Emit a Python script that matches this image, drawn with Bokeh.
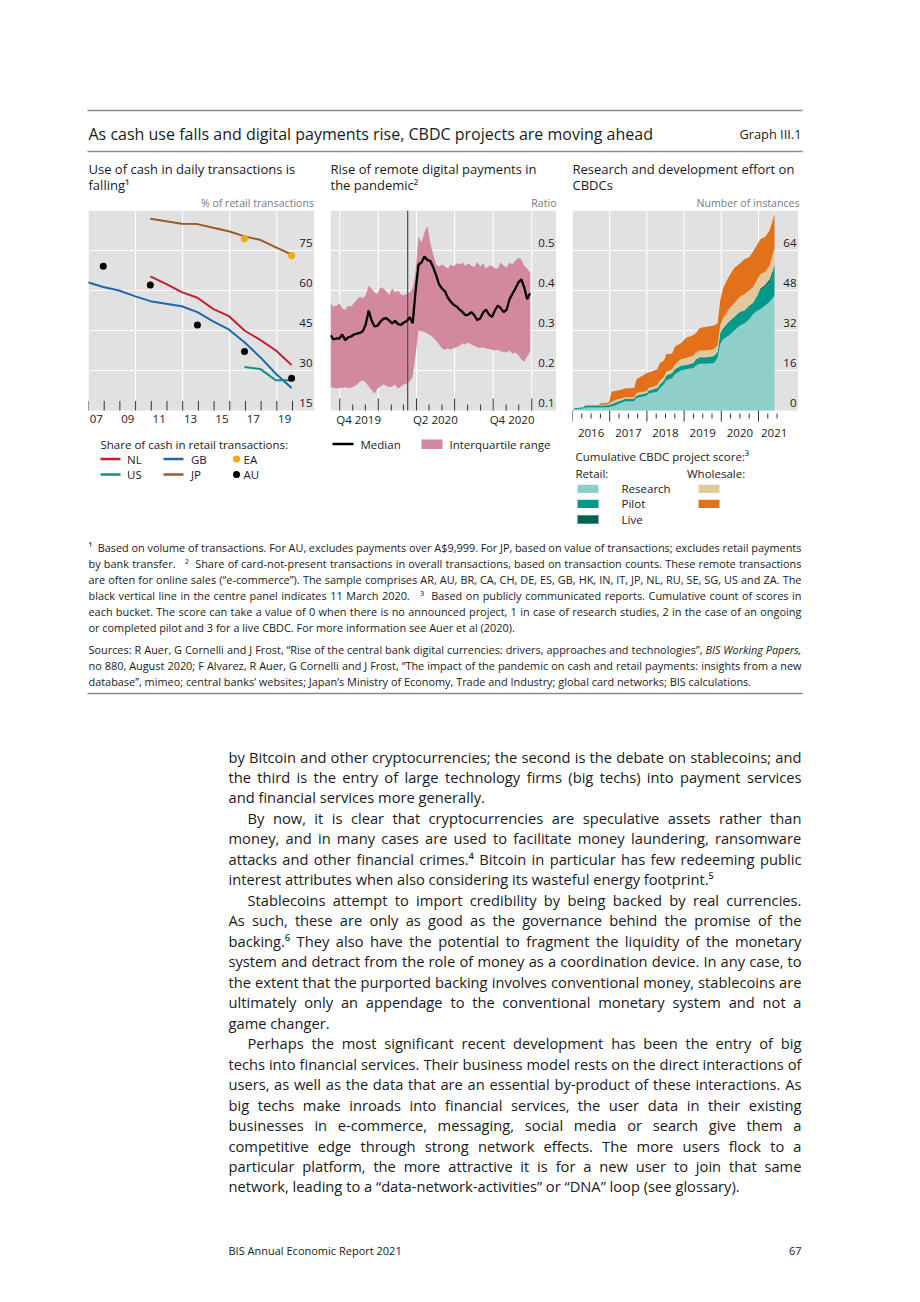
import os
import struct
import pandas as pd
from bokeh.plotting import figure
from bokeh.layouts import column, row
from bokeh.models import Range1d, Spacer
from bokeh.core.properties import value
from bokeh.embed import file_html
from bokeh.resources import INLINE

FONT = "Open Sans"
INK = "#1a1a1a"
BG = "#e1e1e1"
RULE = "#8a8a8a"
GREYTXT = "#7a7a7a"

# ---------------- Panel 1: use of cash (% of retail transactions) ----------------
cash_gb_years = list(range(2006, 2020))
cash_gb = [63.1, 61.3, 60.0, 57.9, 56.0, 55.0, 54.1, 51.9, 48.4, 45.4, 40.6, 35.0, 28.8, 23.4]
cash_nl_years = list(range(2010, 2020))
cash_nl = [65.3, 62.5, 59.4, 57.3, 53.1, 50.4, 45.0, 41.5, 37.5, 32.1]
cash_jp_years = list(range(2010, 2020))
cash_jp = [86.9, 86.0, 85.0, 84.9, 83.5, 82.2, 80.3, 79.0, 76.2, 73.5]
cash_us_years = [2016, 2017, 2018, 2019]
cash_us = [31.3, 30.6, 26.3, 26.3]
cash_ea_years = [2016, 2019]
cash_ea = [79.4, 73.1]
cash_au_years = [2007, 2010, 2013, 2016, 2019]
cash_au = [69.1, 62.1, 47.1, 37.1, 27.1]
cash_yticks = [15, 30, 45, 60, 75]
cash_xlabel_years = [2007, 2009, 2011, 2013, 2015, 2017, 2019]
cash_xlabels = ["07", "09", "11", "13", "15", "17", "19"]
cash_tick_years = list(range(2007, 2021))
cash_vgrid_years = [2010, 2013, 2016, 2019]

# ---------------- Panel 2: remote digital payments (ratio), weekly ----------------
remote_weeks = pd.date_range("2019-09-09", periods=69, freq="7D")
remote_median = [0.288, 0.278, 0.280, 0.280, 0.290, 0.276, 0.283, 0.285, 0.290, 0.292,
                 0.294, 0.298, 0.315, 0.350, 0.325, 0.310, 0.312, 0.322, 0.329, 0.331,
                 0.325, 0.318, 0.324, 0.316, 0.314, 0.320, 0.324, 0.333, 0.318, 0.400,
                 0.465, 0.470, 0.485, 0.476, 0.474, 0.458, 0.438, 0.415, 0.405, 0.398,
                 0.382, 0.372, 0.364, 0.360, 0.352, 0.346, 0.338, 0.340, 0.346, 0.338,
                 0.326, 0.330, 0.345, 0.352, 0.340, 0.334, 0.350, 0.362, 0.356, 0.346,
                 0.352, 0.378, 0.392, 0.405, 0.420, 0.428, 0.408, 0.378, 0.393]
remote_q3 = [0.368, 0.360, 0.362, 0.368, 0.355, 0.352, 0.362, 0.360, 0.368, 0.378,
             0.385, 0.380, 0.388, 0.412, 0.405, 0.395, 0.392, 0.408, 0.405, 0.398,
             0.388, 0.405, 0.395, 0.400, 0.390, 0.388, 0.392, 0.395, 0.405, 0.450,
             0.535, 0.520, 0.545, 0.562, 0.520, 0.490, 0.465, 0.460, 0.465, 0.460,
             0.455, 0.465, 0.460, 0.468, 0.465, 0.470, 0.462, 0.468, 0.462, 0.458,
             0.472, 0.460, 0.468, 0.455, 0.462, 0.462, 0.455, 0.455, 0.470, 0.462,
             0.458, 0.470, 0.465, 0.475, 0.482, 0.478, 0.462, 0.455, 0.445]
remote_q1 = [0.158, 0.157, 0.155, 0.156, 0.157, 0.158, 0.156, 0.157, 0.160, 0.165,
             0.172, 0.175, 0.170, 0.160, 0.152, 0.142, 0.155, 0.160, 0.165, 0.162,
             0.158, 0.160, 0.165, 0.155, 0.160, 0.165, 0.168, 0.172, 0.185, 0.240,
             0.300, 0.298, 0.296, 0.292, 0.288, 0.282, 0.275, 0.265, 0.255, 0.252,
             0.255, 0.252, 0.256, 0.258, 0.262, 0.268, 0.265, 0.270, 0.265, 0.262,
             0.258, 0.256, 0.258, 0.255, 0.254, 0.252, 0.250, 0.252, 0.248, 0.246,
             0.245, 0.250, 0.242, 0.245, 0.238, 0.228, 0.222, 0.235, 0.248]
remote_event = pd.Timestamp("2020-03-11")
remote_yticks = [0.1, 0.2, 0.3, 0.4, 0.5]
remote_months = pd.date_range("2019-10-01", "2021-01-01", freq="MS")
remote_qlabels = ["Q4 2019", "Q2 2020", "Q4 2020"]
remote_qlabel_dates = pd.to_datetime(["2019-11-15", "2020-05-16", "2020-11-15"])

# ---------------- Panel 3: CBDC project scores (cumulative) ----------------
cbdc_t = [2016.00, 2016.05, 2016.30, 2016.35, 2016.68, 2016.75, 2016.98, 2017.05, 2017.15, 2017.30,
          2017.40, 2017.66, 2017.72, 2018.00, 2018.05, 2018.28, 2018.35, 2018.46, 2018.52, 2018.68,
          2018.75, 2018.92, 2019.05, 2019.25, 2019.32, 2019.42, 2019.60, 2019.80, 2019.90, 2019.97,
          2020.05, 2020.20, 2020.35, 2020.50, 2020.62, 2020.75, 2020.85, 2020.97, 2021.05, 2021.18,
          2021.30, 2021.43]
retail_research = [0, 0.5, 0.8, 1.2, 1.2, 1.2, 1.3, 1.6, 2.0, 3.0,
                   3.6, 3.7, 5.0, 6.0, 6.8, 7.5, 9.0, 10.5, 12.0, 13.0,
                   14.5, 16.0, 16.5, 17.0, 18.0, 18.7, 18.7, 19.0, 21.0, 26.5,
                   28.5, 30.0, 32.0, 34.0, 34.8, 36.5, 38.5, 40.0, 40.5, 42.0,
                   43.5, 46.0]
retail_pilot = [0, 0.4, 0.5, 0.8, 0.8, 0.8, 0.9, 1.0, 1.2, 1.0,
                1.0, 1.1, 1.0, 1.0, 1.2, 1.5, 1.5, 1.5, 2.0, 2.0,
                2.0, 2.0, 1.7, 2.0, 2.5, 2.6, 2.6, 2.8, 2.5, 4.5,
                4.5, 5.5, 5.5, 5.5, 5.2, 5.5, 4.5, 5.5, 7.5, 7.5,
                8.0, 11.0]
retail_live = [0, 0, 0, 0, 0, 0, 0, 0, 0, 0,
               0, 0, 0, 0, 0, 0, 0, 0, 0, 0,
               0, 0, 0, 0, 0, 0, 0, 0, 0, 0,
               0, 0, 0, 0, 0, 0, 0, 0.6, 0.8, 0.8,
               1.0, 1.0]
wholesale_research = [0, 0, 0, 0, 0, 0.2, 0.4, 0.8, 1.0, 0.8,
                      0.6, 0.6, 1.0, 0.8, 1.0, 1.2, 1.5, 1.5, 1.5, 1.5,
                      2.0, 2.5, 2.8, 3.0, 2.8, 2.7, 2.7, 2.7, 2.5, 3.0,
                      4.0, 5.0, 5.5, 6.0, 6.5, 6.0, 6.3, 6.4, 5.7, 5.2,
                      5.5, 7.0]
wholesale_pilot = [0, 0, 0, 0, 0, 0.6, 0.6, 4.1, 3.6, 3.5,
                   3.6, 3.6, 5.5, 7.2, 6.2, 6.3, 7.0, 6.5, 7.0, 6.3,
                   7.0, 6.5, 8.0, 8.2, 7.7, 9.0, 9.5, 9.5, 8.8, 10.0,
                   12.0, 13.0, 14.0, 13.3, 14.0, 13.3, 14.2, 14.0, 14.0, 14.0,
                   14.0, 13.5]
cbdc_yticks = [0, 16, 32, 48, 64]
cbdc_label_years = [2016.5, 2017.5, 2018.5, 2019.5, 2020.5, 2021.42]
cbdc_labels = ["2016", "2017", "2018", "2019", "2020", "2021"]
cbdc_quarters = [2016 + 0.25 * k for k in range(23)]
cbdc_vgrid = [2017, 2018, 2019, 2020, 2021]

C_NL, C_GB, C_US, C_JP, C_EA, C_AU = "#c4202f", "#1f67b1", "#12918a", "#9c5a2c", "#f5ab00", "#000000"
C_IQR = "#d3899d"
C_RR, C_RP, C_RL, C_WR, C_WP = "#8ecfc9", "#009a8b", "#00634f", "#e0c99c", "#e3711a"


# ---------------- font metrics (for justified text) ----------------
def _load_width_fn():
    try:
        cands = []
        for root in ["/usr/share/fonts", "/usr/local/share/fonts", os.path.expanduser("~/.fonts"),
                     os.path.expanduser("~/.local/share/fonts")]:
            if not os.path.isdir(root):
                continue
            for dp, dn, fn in os.walk(root):
                for f in fn:
                    fl = f.lower()
                    if fl.startswith("opensans") and fl.endswith(".ttf") and "italic" not in fl:
                        cands.append(os.path.join(dp, f))
        if not cands:
            return None

        def rank(pth):
            b = os.path.basename(pth).lower()
            if "opensans-regular" in b:
                return 0
            if "[" in b or "variable" in b:
                return 1
            if "condensed" in b or "semi" in b or "bold" in b or "light" in b or "medium" in b or "extra" in b:
                return 5
            return 2
        cands.sort(key=rank)
        data = open(cands[0], "rb").read()
        ntab = struct.unpack(">H", data[4:6])[0]
        tabs = {}
        for i in range(ntab):
            tag, cs, off, ln = struct.unpack(">4sIII", data[12 + 16 * i: 28 + 16 * i])
            tabs[tag.decode("latin1")] = off
        upem = struct.unpack(">H", data[tabs["head"] + 18: tabs["head"] + 20])[0]
        nhm = struct.unpack(">H", data[tabs["hhea"] + 34: tabs["hhea"] + 36])[0]
        ho = tabs["hmtx"]
        adv = [struct.unpack(">H", data[ho + 4 * i: ho + 4 * i + 2])[0] for i in range(nhm)]
        co = tabs["cmap"]
        nsub = struct.unpack(">H", data[co + 2: co + 4])[0]
        cmap = {}
        for i in range(nsub):
            pid, eid, soff = struct.unpack(">HHI", data[co + 4 + 8 * i: co + 12 + 8 * i])
            st = co + soff
            fmt = struct.unpack(">H", data[st: st + 2])[0]
            if fmt == 4 and pid in (0, 3):
                segx2 = struct.unpack(">H", data[st + 6: st + 8])[0]
                seg = segx2 // 2
                ends = struct.unpack(">%dH" % seg, data[st + 14: st + 14 + segx2])
                starts = struct.unpack(">%dH" % seg, data[st + 16 + segx2: st + 16 + 2 * segx2])
                deltas = struct.unpack(">%dh" % seg, data[st + 16 + 2 * segx2: st + 16 + 3 * segx2])
                rpos = st + 16 + 3 * segx2
                roffs = struct.unpack(">%dH" % seg, data[rpos: rpos + segx2])
                for s in range(seg):
                    if starts[s] > 0x2100:
                        continue
                    for c in range(starts[s], min(ends[s], 0x2100) + 1):
                        if roffs[s] == 0:
                            g = (c + deltas[s]) & 0xFFFF
                        else:
                            ga = rpos + 2 * s + roffs[s] + 2 * (c - starts[s])
                            g = struct.unpack(">H", data[ga: ga + 2])[0]
                            if g:
                                g = (g + deltas[s]) & 0xFFFF
                        cmap[c] = g
                break
        if not cmap:
            return None

        def width(s, size):
            tot = 0
            for ch in s:
                g = cmap.get(ord(ch), 0)
                tot += adv[g] if g < nhm else adv[-1]
            return tot / upem * size
        if width("n", 1000) <= 0:
            return None
        return width
    except Exception:
        return None


WIDTH = _load_width_fn()


def mkfig(w, h, xr, yr):
    p = figure(width=w, height=h, x_range=xr, y_range=yr, toolbar_location=None,
               output_backend="svg", min_border=0, outline_line_color=None,
               x_axis_location=None, y_axis_location=None)
    p.grid.grid_line_color = None
    p.background_fill_color = "white"
    p.border_fill_color = "white"
    return p


def T(p, x, y, s, size, color=INK, align="left", style="normal", x_offset=0, y_offset=0):
    n = 1
    for v in (x, y, s):
        if isinstance(v, (list, tuple)):
            n = len(v)
    xs = list(x) if isinstance(x, (list, tuple)) else [x] * n
    ys = list(y) if isinstance(y, (list, tuple)) else [y] * n
    ss = list(s) if isinstance(s, (list, tuple)) else [s] * n
    p.text(x=xs, y=ys, text=ss, text_font=value(FONT),
           text_font_size=value(f"{size}px"), text_color=color, text_align=align,
           text_baseline="alphabetic", text_font_style=style, x_offset=x_offset, y_offset=y_offset)


def J(p, x0, x1, y, line, size, color=INK):
    """Justified line: words spread between x0 and x1."""
    toks = line.split(" ")
    if WIDTH is None or len(toks) < 2:
        T(p, x0, y, line, size, color=color)
        return
    ws = [WIDTH(t, size) for t in toks]
    gap = (x1 - x0 - sum(ws)) / (len(toks) - 1)
    if gap < 0.12 * size:
        T(p, x0, y, line, size, color=color)
        return
    xs, words, x = [], [], x0
    for t, w in zip(toks, ws):
        if t:
            xs.append(x)
            words.append(t)
        x += w + gap
    T(p, xs, y, words, size, color=color)


# ======== Band A : heading (page y 0-210) ========
pA = mkfig(904, 210, Range1d(0, 904), Range1d(210, 0))
pA.segment(x0=[87, 87], x1=[802, 802], y0=[110, 151], y1=[110, 151], line_color=RULE, line_width=1.5)
T(pA, 88, 133, "As cash use falls and digital payments rise, CBDC projects are moving ahead", 16.0)
T(pA, 801, 133.5, "Graph III.1", 12.8, align="right")
T(pA, [88, 330, 572], 168, ["Use of cash in daily transactions is", "Rise of remote digital payments in",
                            "Research and development effort on"], 13)
T(pA, [88, 330, 572], 184, ["falling\u00b9", "the pandemic\u00b2", "CBDCs"], 13)
T(pA, [313.5, 556, 799], 202.5, ["% of retail transactions", "Ratio", "Number of instances"], 10.6,
  color=GREYTXT, align="right")

# ======== Band B panels (page y 210-438) ========
HB = 228
EXT = HB - 200  # px below the plotting area

# Panel 1
X1 = (2007.0, 2021.4)
p1 = mkfig(226, HB, Range1d(*X1), Range1d(15 - EXT * 0.375, 90))
p1.quad(left=X1[0], right=X1[1], bottom=15, top=90, fill_color=BG, line_color=None)
p1.segment(x0=X1[0], x1=X1[1], y0=cash_yticks[1:], y1=cash_yticks[1:], line_color="white", line_width=1)
p1.segment(x0=cash_vgrid_years, x1=cash_vgrid_years, y0=15, y1=90, line_color="white", line_width=1)
off = 0.94
p1.line([y + off for y in cash_jp_years], cash_jp, line_color=C_JP, line_width=2)
p1.line([y + off for y in cash_nl_years], cash_nl, line_color=C_NL, line_width=2)
p1.line([y + off for y in cash_gb_years], cash_gb, line_color=C_GB, line_width=2)
p1.line([y + off for y in cash_us_years], cash_us, line_color=C_US, line_width=2)
p1.scatter([y + off for y in cash_ea_years], cash_ea, size=7, fill_color=C_EA, line_color=None)
p1.scatter([y + off for y in cash_au_years], cash_au, size=7, fill_color=C_AU, line_color=None)
p1.segment(x0=cash_tick_years, x1=cash_tick_years, y0=15, y1=18.6, line_color="#333333", line_width=1)
T(p1, X1[1], cash_yticks, [str(v) for v in cash_yticks], 11.5, align="right", x_offset=-2, y_offset=-7.3)
T(p1, [y + 0.5 for y in cash_xlabel_years], 15, cash_xlabels, 11.5, align="center", y_offset=8.5)

# Panel 2
X2 = (pd.Timestamp("2019-09-09"), pd.Timestamp("2021-03-01"))
p2 = mkfig(226, HB, Range1d(*X2), Range1d(0.1 - EXT * 0.0025, 0.6))
p2.quad(left=X2[0], right=X2[1], bottom=0.1, top=0.6, fill_color=BG, line_color=None)
p2.segment(x0=X2[0], x1=X2[1], y0=remote_yticks[1:], y1=remote_yticks[1:], line_color="white", line_width=1)
qstarts = [d for d in remote_months if d.month in (1, 4, 7, 10)]
p2.segment(x0=qstarts, x1=qstarts, y0=0.1, y1=0.6, line_color="white", line_width=1)
p2.varea(x=remote_weeks, y1=remote_q1, y2=remote_q3, fill_color=C_IQR, fill_alpha=1)
p2.segment(x0=[remote_event], x1=[remote_event], y0=0.1, y1=0.6, line_color="#555555", line_width=1.3)
p2.line(remote_weeks, remote_median, line_color="black", line_width=2.3)
short = [d for d in remote_months if d.month not in (1, 4, 7, 10)]
p2.segment(x0=qstarts, x1=qstarts, y0=0.1, y1=0.13, line_color="#333333", line_width=1)
p2.segment(x0=short, x1=short, y0=0.1, y1=0.115, line_color="#333333", line_width=1)
T(p2, X2[1], remote_yticks, [f"{v:.1f}" for v in remote_yticks], 11.5, align="right", x_offset=-2, y_offset=-7.3)
T(p2, list(remote_qlabel_dates), 0.1, remote_qlabels, 11.5, align="center", y_offset=8.5)

# Panel 3
X3 = (2016.0, 2022.075)
p3 = mkfig(226, HB, Range1d(*X3), Range1d(-EXT * 0.4, 80))
p3.quad(left=X3[0], right=X3[1], bottom=0, top=80, fill_color=BG, line_color=None)
p3.segment(x0=X3[0], x1=X3[1], y0=cbdc_yticks[1:], y1=cbdc_yticks[1:], line_color="white", line_width=1)
p3.segment(x0=cbdc_vgrid, x1=cbdc_vgrid, y0=0, y1=80, line_color="white", line_width=1)
src = dict(t=cbdc_t, rr=retail_research, rp=retail_pilot, rl=retail_live,
           wr=wholesale_research, wp=wholesale_pilot)
p3.varea_stack(stackers=["rr", "rp", "rl", "wr", "wp"], x="t", color=[C_RR, C_RP, C_RL, C_WR, C_WP],
               source=src)
qt_tall = [q for q in cbdc_quarters if abs(q - round(q)) < 1e-9]
qt_short = [q for q in cbdc_quarters if abs(q - round(q)) >= 1e-9]
p3.segment(x0=qt_tall, x1=qt_tall, y0=0, y1=-4.4, line_color="#333333", line_width=1)
p3.segment(x0=qt_short, x1=qt_short, y0=-1.2, y1=-3.2, line_color="#333333", line_width=1)
T(p3, X3[1], cbdc_yticks, [str(v) for v in cbdc_yticks], 11.5, align="right", x_offset=-2, y_offset=-7.3)
T(p3, cbdc_label_years, 0, cbdc_labels, 11.5, align="center", y_offset=22.5)

# ======== Band C : legends, notes, text (page y 438-1298) ========
TOPC = 210 + HB
pC = mkfig(904, 1298 - TOPC, Range1d(0, 904), Range1d(1298, TOPC))
# left legend
T(pC, 100, 444, "Share of cash in retail transactions:", 11.5)
pC.segment(x0=[100, 163, 100, 163], x1=[120, 183, 120, 183], y0=[458.5, 458.5, 474, 474],
           y1=[458.5, 458.5, 474, 474], line_color=[C_NL, C_GB, C_US, C_JP], line_width=2.5)
pC.scatter([236, 236], [458.5, 474], size=7, fill_color=[C_EA, C_AU], line_color=None)
T(pC, [126.5, 190.5, 243, 126.5, 190.5, 243], [458.5, 458.5, 458.5, 474, 474, 474],
  ["NL", "GB", "EA", "US", "JP", "AU"], 11.5)
# middle legend
pC.segment(x0=[332], x1=[353], y0=[443.5], y1=[443.5], line_color="black", line_width=2.5)
T(pC, 360, 443.5, "Median", 11.5)
pC.quad(left=[421], right=[442], top=[439], bottom=[448.5], fill_color=C_IQR, line_color=None)
T(pC, 449, 443.5, "Interquartile range", 11.5)
# right legend
T(pC, 575, 456, "Cumulative CBDC project score:\u00b3", 11.5)
T(pC, [575, 686.5], 473.3, ["Retail:", "Wholesale:"], 11.5)
pC.quad(left=[577, 577, 577, 698, 698], right=[598, 598, 598, 719, 719],
        top=[484.2, 499.2, 514.8, 484.2, 499.2], bottom=[492.4, 507.4, 523.2, 492.4, 507.4],
        fill_color=[C_RR, C_RP, C_RL, C_WR, C_WP], line_color=None)
T(pC, [621, 621, 621], [488.3, 503.3, 519], ["Research", "Pilot", "Live"], 11.5)

# footnotes
FN = 10.9
notes = [
    "\u00b9  Based on volume of transactions. For AU, excludes payments over A$9,999. For JP, based on value of transactions; excludes retail payments",
    "by bank transfer.   \u00b2  Share of card-not-present transactions in overall transactions, based on transaction counts. These remote transactions",
    "are often for online sales (\u201ce-commerce\u201d). The sample comprises AR, AU, BR, CA, CH, DE, ES, GB, HK, IN, IT, JP, NL, RU, SE, SG, US and ZA. The",
    "black vertical line in the centre panel indicates 11 March 2020.   \u00b3  Based on publicly communicated reports. Cumulative count of scores in",
    "each bucket. The score can take a value of 0 when there is no announced project, 1 in case of research studies, 2 in the case of an ongoing",
    "or completed pilot and 3 for a live CBDC. For more information see Auer et al (2020).",
]
for i, ln in enumerate(notes):
    yy = 547 + 16.0 * i
    if i < len(notes) - 1:
        J(pC, 88, 801, yy, ln, FN)
    else:
        T(pC, 88, yy, ln, FN)
src_lines = [
    "Sources: R Auer, G Cornelli and J Frost, \u201cRise of the central bank digital currencies: drivers, approaches and technologies\u201d,",
    "no 880, August 2020; F Alvarez, R Auer, G Cornelli and J Frost, \u201cThe impact of the pandemic on cash and retail payments: insights from a new",
    "database\u201d, mimeo; central banks\u2019 websites; Japan\u2019s Ministry of Economy, Trade and Industry; global card networks; BIS calculations.",
]
J(pC, 88, 702, 649, src_lines[0], FN)
T(pC, 801, 649, "BIS Working Papers,", FN, align="right", style="italic")
J(pC, 88, 801, 665, src_lines[1], FN)
T(pC, 88, 681, src_lines[2], FN)
pC.segment(x0=[87], x1=[802], y0=[693], y1=[693], line_color=RULE, line_width=1.5)

# body text: (indent, text, justified)
body = [
    (228, "by Bitcoin and other cryptocurrencies; the second is the debate on stablecoins; and", True),
    (228, "the third is the entry of large technology firms (big techs) into payment services", True),
    (228, "and financial services more generally.", False),
    (247, "By now, it is clear that cryptocurrencies are speculative assets rather than", True),
    (228, "money, and in many cases are used to facilitate money laundering, ransomware", True),
    (228, "attacks and other financial crimes.\u2074 Bitcoin in particular has few redeeming public", True),
    (228, "interest attributes when also considering its wasteful energy footprint.\u2075", False),
    (247, "Stablecoins attempt to import credibility by being backed by real currencies.", True),
    (228, "As such, these are only as good as the governance behind the promise of the", True),
    (228, "backing.\u2076 They also have the potential to fragment the liquidity of the monetary", True),
    (228, "system and detract from the role of money as a coordination device. In any case, to", True),
    (228, "the extent that the purported backing involves conventional money, stablecoins are", True),
    (228, "ultimately only an appendage to the conventional monetary system and not a", True),
    (228, "game changer.", False),
    (247, "Perhaps the most significant recent development has been the entry of big", True),
    (228, "techs into financial services. Their business model rests on the direct interactions of", True),
    (228, "users, as well as the data that are an essential by-product of these interactions. As", True),
    (228, "big techs make inroads into financial services, the user data in their existing", True),
    (228, "businesses in e-commerce, messaging, social media or search give them a", True),
    (228, "competitive edge through strong network effects. The more users flock to a", True),
    (228, "particular platform, the more attractive it is for a new user to join that same", True),
    (228, "network, leading to a \u201cdata-network-activities\u201d or \u201cDNA\u201d loop (see glossary).", False),
]
BS = 14.7
for i, (x0, ln, just) in enumerate(body):
    yy = 756 + 20.476 * i
    if just:
        J(pC, x0, 801, yy, ln, BS)
    else:
        T(pC, x0, yy, ln, BS)
T(pC, 228, 1250, "BIS Annual Economic Report 2021", 11)
T(pC, 801, 1250, "67", 11, align="right")

band_b = row(Spacer(width=88, height=HB), p1, Spacer(width=16, height=HB), p2,
             Spacer(width=16, height=HB), p3, Spacer(width=106, height=HB))
layout = column(pA, band_b, pC)
open("out.html", "w").write(file_html(layout, INLINE))
